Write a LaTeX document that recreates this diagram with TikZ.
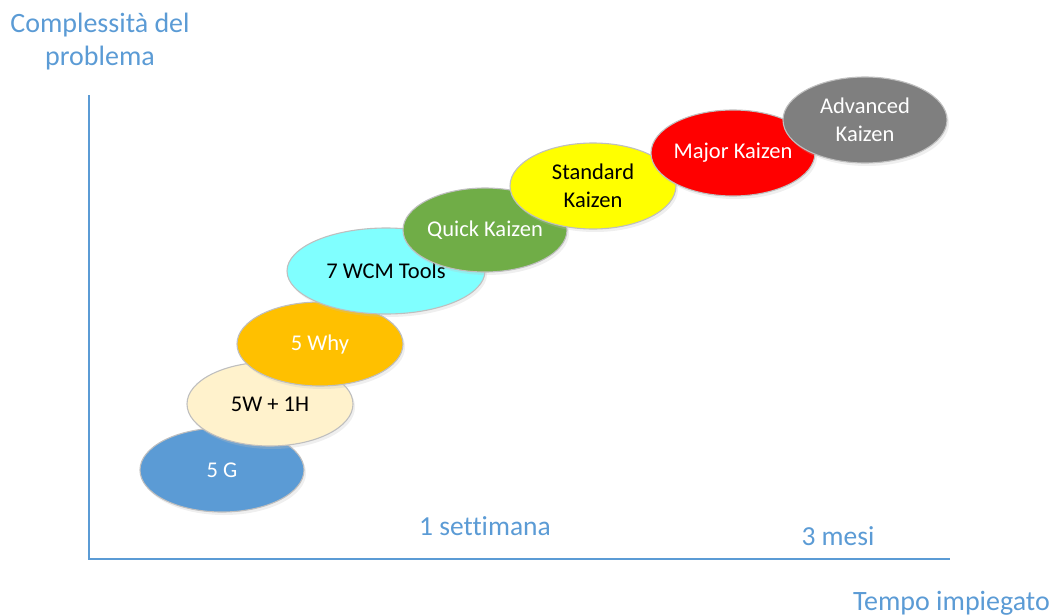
\documentclass[tikz,border=0pt]{standalone}
\usepackage{fontspec}
\setmainfont{Carlito}[Ligatures=NoCommon]
\definecolor{axisblue}{HTML}{5B9BD5}
\definecolor{edgegray}{HTML}{BFBFBF}
\definecolor{cG}{HTML}{5B9BD5}
\definecolor{cW}{HTML}{FFF2CC}
\definecolor{cWhy}{HTML}{FFC000}
\definecolor{cWCM}{HTML}{80FFFF}
\definecolor{cQuick}{HTML}{70AD47}
\definecolor{cStd}{HTML}{FFFF00}
\definecolor{cMajor}{HTML}{FF0000}
\definecolor{cAdv}{HTML}{7F7F7F}
\tikzset{
  blob/.style={draw=edgegray, line width=1.1pt, font=\fontsize{22.5}{28}\selectfont, align=center},
  axislbl/.style={text=axisblue, font=\fontsize{28}{32}\selectfont, inner sep=0pt},
  ticklbl/.style={text=axisblue, font=\fontsize{27.5}{30}\selectfont, inner sep=0pt},
  axisline/.style={draw=axisblue, line width=2pt},
}
\newcommand{\blobat}[8]{%
  % #1 name, #2 x, #3 y, #4 rx, #5 ry, #6 fill, #7 text colour, #8 text
  \fill[black!25, opacity=0.25] (#2+2,#3+3) ellipse [x radius=#4, y radius=#5];
  \draw[blob, fill=#6] (#2,#3) ellipse [x radius=#4, y radius=#5];
  \node[blob, draw=none, text=#7] (#1) at (#2,#3) {#8};
}
\begin{document}
\begin{tikzpicture}[x=1pt, y=-1pt]
\useasboundingbox (0,0) rectangle (1053,616);
% axis
\coordinate (top) at (89,95);
\coordinate (origin) at (89,559);
\coordinate (right) at (950,559);
\draw[axisline] (top) -- (origin) -- (right);
% labels
\node[axislbl, anchor=base, align=center] (ylbl1) at (100,32) {Complessità del};
\node[axislbl, anchor=base] (ylbl2) at (100,65) {problema};
\node[axislbl, anchor=base east] (xlbl) at (1050,610) {Tempo impiegato};
\node[ticklbl, anchor=base] (week) at (485,535) {1 settimana};
\node[ticklbl, anchor=base] (months) at (838,545) {3 mesi};
% ellipses
\blobat{g}{222}{470}{82}{42}{cG}{white}{5 G}
\blobat{w}{270}{404}{83}{42}{cW}{black}{5W + 1H}
\blobat{why}{320}{344}{83}{42}{cWhy}{white}{5 Why}
\blobat{wcm}{386}{271}{99}{43}{cWCM}{black}{7 WCM Tools}
\blobat{quick}{485}{230}{82}{42}{cQuick}{white}{Quick Kaizen}
\blobat{std}{593}{186}{83}{43}{cStd}{black}{Standard\\Kaizen}
\blobat{major}{733}{153}{82}{43}{cMajor}{white}{Major Kaizen}
\blobat{adv}{865}{120}{82}{43}{cAdv}{white}{Advanced\\Kaizen}
\end{tikzpicture}
\end{document}
